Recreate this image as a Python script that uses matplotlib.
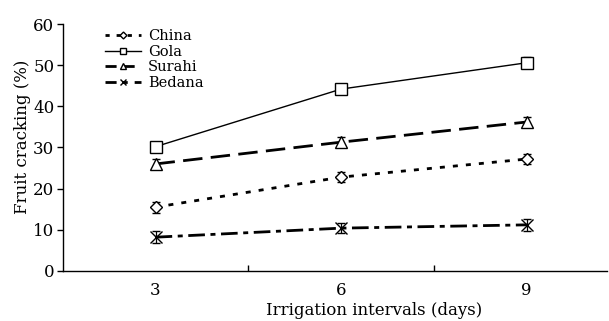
import matplotlib
matplotlib.use("Agg")
import matplotlib.pyplot as plt
from matplotlib.lines import Line2D

intervals = [3, 6, 9]
china = [15.5, 22.8, 27.2]
gola = [30.2, 44.2, 50.6]
surahi = [26.0, 31.3, 36.2]
bedana = [8.2, 10.4, 11.2]
china_err = [1.3, 1.3, 1.3]
gola_err = [1.2, 1.3, 1.3]
surahi_err = [1.2, 1.3, 1.3]
bedana_err = [1.4, 1.3, 1.4]
series_names = ["China", "Gola", "Surahi", "Bedana"]

plt.rcParams['font.family'] = ['DejaVu Serif']

fig = plt.figure(figsize=(6.09, 3.21), dpi=100)
ax = fig.add_axes([0.103, 0.156, 0.894, 0.769])

common = dict(color='black', capsize=3, elinewidth=0.9, capthick=0.9,
              markerfacecolor='white', markeredgecolor='black', markeredgewidth=1.0)
styles = [
    dict(marker='D', markersize=6.5, linestyle=(0, (1.8, 2.9)), linewidth=2.0),
    dict(marker='s', markersize=8, linestyle='-', linewidth=1.0),
    dict(marker='^', markersize=8.5, linestyle=(0, (7, 3)), linewidth=2.0),
    dict(marker='x', markersize=9, linestyle=(0, (6, 2, 1.8, 2)), linewidth=2.0),
]
data = [china, gola, surahi, bedana]
errs = [china_err, gola_err, surahi_err, bedana_err]
for vals, err, st, name in zip(data, errs, styles, series_names):
    ax.errorbar(intervals, vals, yerr=err, label=name, **st, **common)

ax.set_xlim(1.5, 10.3)
ax.set_ylim(0, 60)
ax.set_yticks([0, 10, 20, 30, 40, 50, 60])
ax.set_xticks(intervals)
ax.set_xticks([4.5, 7.5], minor=True)
ax.tick_params(axis='x', which='major', length=0, labelsize=12, pad=8)
ax.tick_params(axis='x', which='minor', direction='in', length=4, width=1)
ax.tick_params(axis='y', direction='out', length=4, width=1, labelsize=12, pad=2)
for s in ['top', 'right']:
    ax.spines[s].set_visible(False)
for s in ['left', 'bottom']:
    ax.spines[s].set_linewidth(1.0)

ax.set_xlabel("Irrigation intervals (days)", fontsize=12)
ax.set_ylabel("Fruit cracking (%)", fontsize=12)
ax.xaxis.set_label_coords(0.572, -0.125)
ax.yaxis.set_label_coords(-0.058, 0.543)

handles = []
leg_styles = [
    dict(marker='D', markersize=3.5, linestyle=(0, (1.5, 2.5)), linewidth=2.0),
    dict(marker='s', markersize=4.5, linestyle='-', linewidth=1.0),
    dict(marker='^', markersize=4.5, linestyle=(0, (4, 2.5)), linewidth=2.0),
    dict(marker='x', markersize=5, linestyle=(0, (4, 2.5, 1.5, 2.5)), linewidth=2.0),
]
for st, name in zip(leg_styles, series_names):
    handles.append(Line2D([], [], color='black', markerfacecolor='white',
                          markeredgecolor='black', markeredgewidth=1.0, label=name, **st))
leg = ax.legend(handles=handles, loc='upper left', bbox_to_anchor=(0.067, 1.004),
                frameon=False, fontsize=10.5, handlelength=2.5, handletextpad=0.45,
                labelspacing=0.12, borderaxespad=0)

fig.savefig("out.png", dpi=100)
